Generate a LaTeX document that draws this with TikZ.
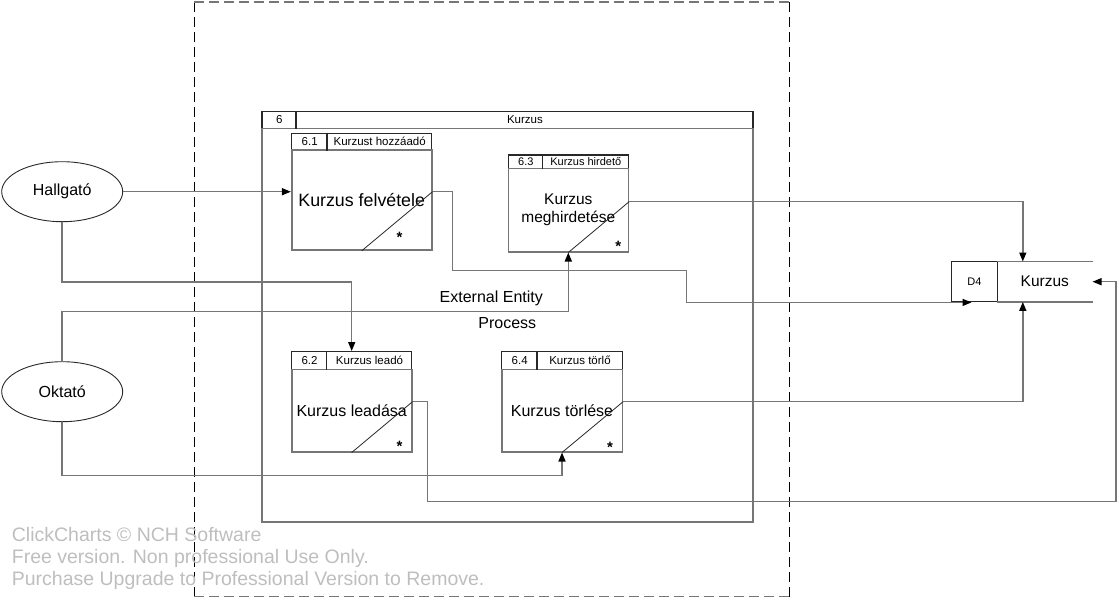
\documentclass[tikz,border=0pt]{standalone}
\usepackage{fontspec}
\setmainfont{Liberation Sans}
\usetikzlibrary{arrows.meta,calc,shapes.geometric}
\definecolor{ln}{RGB}{118,118,118}
\definecolor{wm}{RGB}{190,190,190}
\definecolor{dk}{RGB}{40,40,40}
\newcommand{\fs}[1]{\fontsize{#1}{#1}\selectfont}
\begin{document}
\begin{tikzpicture}[x=1pt,y=-1pt,
  flow/.style={draw=ln, line width=1.5pt},
  arr/.style={-{Triangle[length=9pt,width=7pt,color=black,fill=black]}},
  bodybox/.style={draw=ln, line width=1.6pt, inner sep=0pt},
  hdrbox/.style={draw=dk, line width=1.4pt, inner sep=0pt},
  hline/.style={draw=dk, line width=1.4pt},
  diag/.style={draw=dk, line width=0.8pt},
  hdrtxt/.style={inner sep=0pt, font=\fs{11.5}},
  startxt/.style={inner sep=0pt, anchor=base, font=\fs{15}\bfseries},
  ent/.style={ellipse, draw=dk, line width=0.9pt, inner sep=0pt, font=\fs{16}},
  lbl/.style={inner sep=0pt, font=\fs{16}},
  wmtxt/.style={inner sep=0pt, anchor=base west, text=wm, font=\fs{19.5}},
  outerd/.style={line width=1.2pt, dash pattern=on 10pt off 5pt}]
\useasboundingbox (0,0) rectangle (1119,600);

% outer dashed boundary
\draw[outerd, draw=black] (194.3,2) -- (194.3,596.5);
\draw[outerd, draw=black] (789.3,2) -- (789.3,596.5);
\draw[outerd, draw=ln] (194.3,2) -- (789.3,2);
\draw[outerd, draw=ln] (194.3,596.5) -- (789.3,596.5);

% frame 6
\node[hdrbox, minimum width=491pt, minimum height=16.6pt] (p6h) at (507.5,120) {};
\node[bodybox, minimum width=491pt, minimum height=393.4pt] (p6b) at (507.5,325) {};
\draw[hline] ($(p6h.north west)+(34.7,0)$) -- ($(p6h.south west)+(34.7,0)$);
\node[hdrtxt] (p6id) at (279.4,120) {6};
\node[hdrtxt] (p6nm) at (524.9,120) {Kurzus};

% process 6.1
\node[hdrbox, minimum width=140pt, minimum height=16.7pt] (p61h) at (361.7,141.65) {};
\node[bodybox, minimum width=140pt, minimum height=100pt, font=\fs{17.8}] (p61b) at (361.7,200) {Kurzus felvétele};
\draw[hline] ($(p61h.north west)+(36,0)$) -- ($(p61h.south west)+(36,0)$);
\node[hdrtxt] (p61id) at (309.7,141.65) {6.1};
\node[hdrtxt] (p61nm) at (379.7,141.65) {Kurzust hozzáadó};
\coordinate (p61out) at ($(p61b.east)+(0,-8.3)$);
\draw[diag] (p61b.south) -- (p61out);
\node[startxt] (s61) at (399.5,242) {*};

% process 6.3
\node[hdrbox, minimum width=120pt, minimum height=13.3pt] (p63h) at (568.3,161.65) {};
\node[bodybox, minimum width=120pt, minimum height=83.4pt, font=\fs{15.5}, align=center] (p63b) at (568.3,210) {Kurzus\\[3pt]meghirdetése};
\draw[hline] ($(p63h.north west)+(35,0)$) -- ($(p63h.south west)+(35,0)$);
\node[hdrtxt, font=\fs{11}] (p63id) at (525.8,161.65) {6.3};
\node[hdrtxt, font=\fs{11}] (p63nm) at (585.8,161.65) {Kurzus hirdető};
\coordinate (p63out) at ($(p63b.east)+(0,-8.3)$);
\draw[diag] (p63b.south) -- (p63out);
\node[startxt] (s63) at (618.3,251) {*};

% process 6.2
\node[hdrbox, minimum width=120pt, minimum height=17.6pt] (p62h) at (351.7,360.5) {};
\node[bodybox, minimum width=120pt, minimum height=82.4pt, font=\fs{16}] (p62b) at (351.7,410.5) {Kurzus leadása};
\draw[hline] ($(p62h.north west)+(35.6,0)$) -- ($(p62h.south west)+(35.6,0)$);
\node[hdrtxt] (p62id) at (309.5,360.5) {6.2};
\node[hdrtxt] (p62nm) at (369.5,360.5) {Kurzus leadó};
\coordinate (p62out) at ($(p62b.east)+(0,-8.8)$);
\draw[diag] (p62b.south) -- (p62out);
\node[startxt] (s62) at (399.5,451) {*};

% process 6.4
\node[hdrbox, minimum width=120.6pt, minimum height=17.6pt] (p64h) at (562,360.5) {};
\node[bodybox, minimum width=120.6pt, minimum height=82.4pt, font=\fs{16}] (p64b) at (562,410.5) {Kurzus törlése};
\draw[hline] ($(p64h.north west)+(36,0)$) -- ($(p64h.south west)+(36,0)$);
\node[hdrtxt] (p64id) at (519.7,360.5) {6.4};
\node[hdrtxt] (p64nm) at (580,360.5) {Kurzus törlő};
\coordinate (p64out) at ($(p64b.east)+(0,-8.8)$);
\draw[diag] (p64b.south) -- (p64out);
\node[startxt] (s64) at (610,452.5) {*};

% external entities
\node[ent, minimum width=121pt, minimum height=60pt] (hall) at (62.2,191.7) {Hallgató};
\node[ent, minimum width=121pt, minimum height=60pt] (okt) at (62.2,391.7) {Oktató};

% data store
\node[draw=dk, line width=1.4pt, minimum width=45.6pt, minimum height=40pt, inner sep=0pt, font=\fs{11}] (d4) at (974.5,281.7) {D4};
\node[minimum width=95pt, minimum height=40pt, inner sep=0pt, font=\fs{15.5}] (st) at (1044.8,281.7) {Kurzus};
\draw[flow] (st.north west) -- (st.north east);
\draw[flow] (st.south west) -- (st.south east);

% labels
\node[lbl] (lext) at (491.3,298.3) {External Entity};
\node[lbl] (lproc) at (507.3,323.5) {Process};

% connectors
\draw[flow, arr] (hall.east) -- (hall.east -| p61b.west);
\draw[flow, arr] (hall.south) -- ++(0,60) -| (p62h.north);
\draw[flow, arr] (okt.north) -- ++(0,-50) -| (p63b.south);
\draw[flow, arr] (okt.south) -- ++(0,53.3) -| (p64b.south);
\draw[flow, arr] (p61out) -- ++(20,0) |- (686.7,270.7) |- ([xshift=-3pt]d4.south);
\draw[flow, arr] (p63out) -| ([xshift=-22pt]st.north);
\draw[flow, arr] (p64out) -| ([xshift=-22pt]st.south);
\draw[flow, arr] (p62out) -- ++(15,0) |- (1116,501.7) |- (st.east);

% watermark
\node[wmtxt] (wm1) at (11.7,541.7) {ClickCharts © NCH Software};
\node[wmtxt] (wm2) at (11.7,563.5) {Free version. Non professional Use Only.};
\node[wmtxt] (wm3) at (11.7,585.3) {Purchase Upgrade to Professional Version to Remove.};
\end{tikzpicture}
\end{document}
